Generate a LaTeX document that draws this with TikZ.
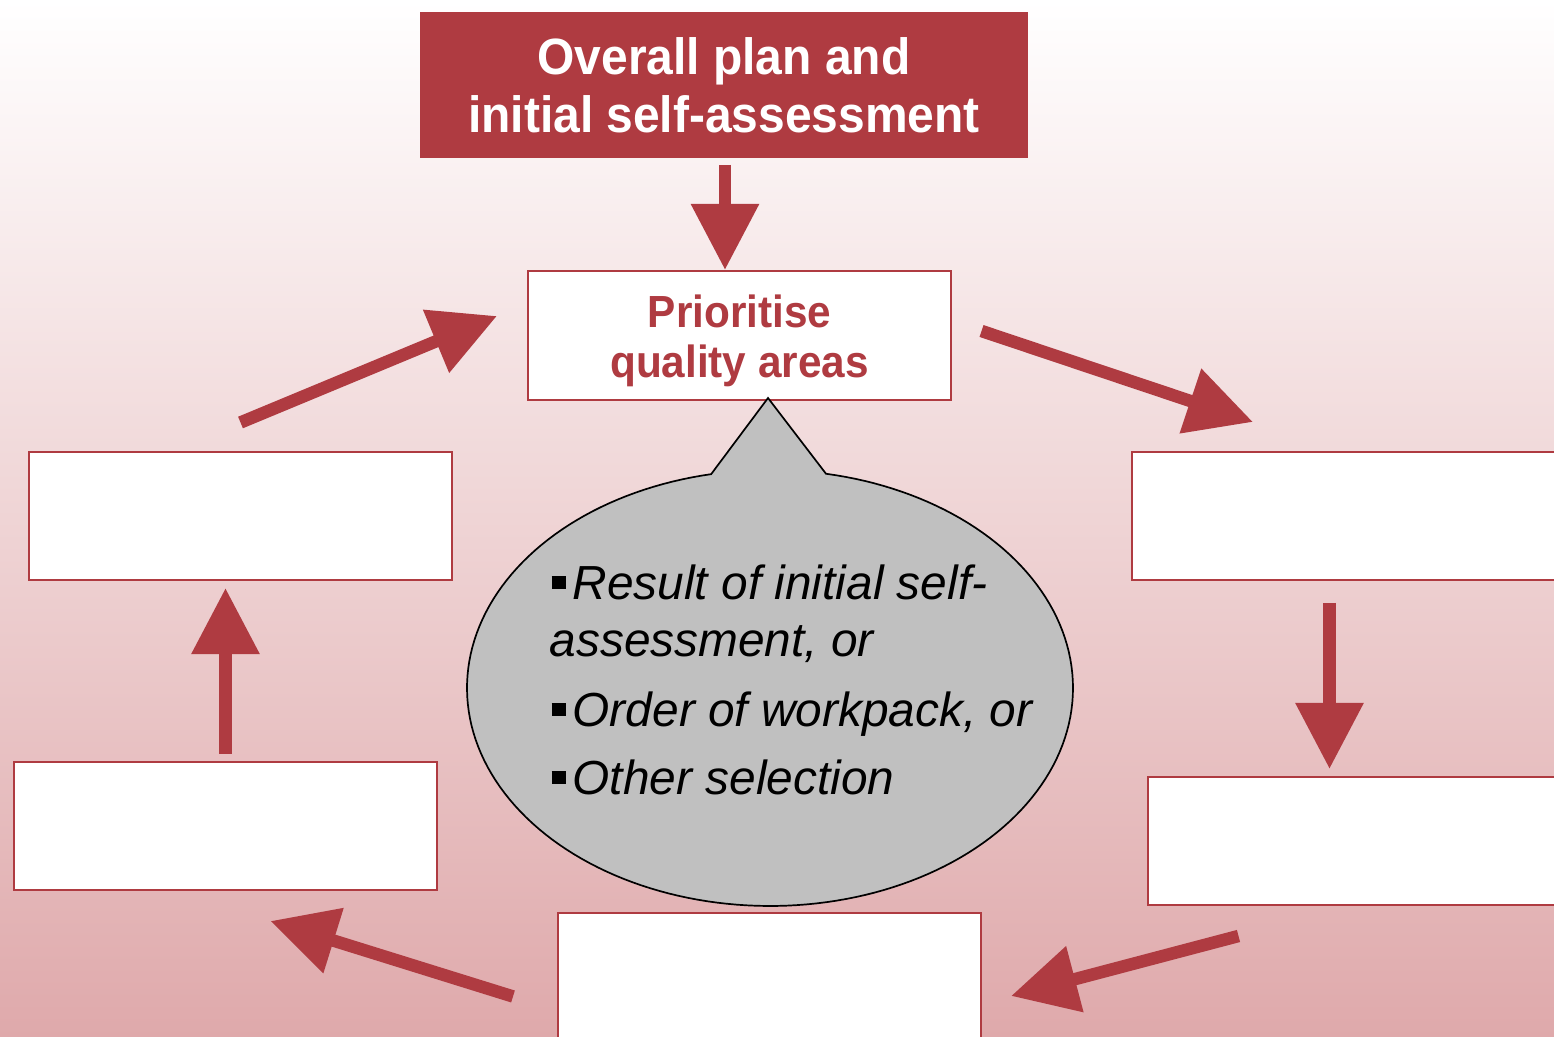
\documentclass[tikz,border=0pt]{standalone}
\usepackage{fontspec}
\setmainfont{Liberation Sans}
\newfontfamily\narrowfont[FakeStretch=0.94]{Liberation Sans}
\usetikzlibrary{arrows.meta}
\definecolor{myred}{RGB}{175,59,65}
\definecolor{bgbot}{RGB}{223,169,171}
\definecolor{bubblegray}{RGB}{192,192,192}
\newdimen\PX \PX=0.01cm
\begin{document}
\begin{tikzpicture}[x=0.01cm,y=-0.01cm,
  box/.style={draw=myred, line width=0.02cm, fill=white, minimum width=4.23cm, minimum height=1.28cm, inner sep=0pt},
  flow/.style={myred, line width=0.125cm, -{Triangle[length=0.66cm,width=0.65cm]}},
  bul/.style={anchor=base west, inner sep=0pt, font=\fontsize{13.6pt}{16.2pt}\selectfont\itshape}]
\useasboundingbox (0,0) rectangle (1554,1037);
\clip (0,0) rectangle (1554,1037);
\shade[top color=white, bottom color=bgbot] (0,0) rectangle (1554,1037);

% title box
\node[fill=myred, draw=myred, line width=0.02cm, minimum width=6.06cm, minimum height=1.43cm,
      inner sep=0pt, text=white, align=center,
      font=\narrowfont\bfseries\fontsize{14.51pt}{16.5pt}\selectfont] (plan) at (724,85)
      {Overall plan and\\initial self-assessment};

% prioritise box
\node[box] (prio) at (739.5,335.5) {};
\node[inner sep=0pt, text=myred, align=center,
      font=\narrowfont\bfseries\fontsize{12.8pt}{14.23pt}\selectfont] (priotext) at (739.5,341)
      {Prioritise\\quality areas};

% empty boxes
\node[box] (lu) at (240.5,516) {};
\node[box] (ru) at (1343.5,516) {};
\node[box] (ll) at (225.5,826) {};
\node[box] (rl) at (1359.5,841) {};
\node[box] (bc) at (769.5,977) {};

% bubble
\filldraw[fill=bubblegray, draw=black, line width=0.017cm, line join=miter]
  (768,398) -- plot[domain=-79.35:258.8, samples=180] ({770+303*cos(\x)},{688+218*sin(\x)}) -- cycle;

\node[bul] (b1) at (551,600) {\rule[11\PX]{14\PX}{13\PX}\hspace{7\PX}Result of initial self-};
\node[bul] (b2) at (549,657) {assessment, or};
\node[bul] (b3) at (551,727) {\rule[11\PX]{14\PX}{13\PX}\hspace{7\PX}Order of workpack, or};
\node[bul] (b4) at (551,795) {\rule[11\PX]{14\PX}{13\PX}\hspace{7\PX}Other selection};

% arrow end points
\coordinate (a1s) at (725,165);    \coordinate (a1e) at (725,270);
\coordinate (a2s) at (981.5,331);  \coordinate (a2e) at (1253,422);
\coordinate (a3s) at (1329.5,603); \coordinate (a3e) at (1329.5,769);
\coordinate (a4s) at (1238.5,936); \coordinate (a4e) at (1011,996);
\coordinate (a5s) at (513,996.5);  \coordinate (a5e) at (270.5,921);
\coordinate (a6s) at (225.5,754);  \coordinate (a6e) at (225.5,588);
\coordinate (a7s) at (240.5,422.5);\coordinate (a7e) at (497,316);

\draw[flow] (a1s) -- (a1e);
\draw[flow] (a2s) -- (a2e);
\draw[flow] (a3s) -- (a3e);
\draw[flow] (a4s) -- (a4e);
\draw[flow] (a5s) -- (a5e);
\draw[flow] (a6s) -- (a6e);
\draw[flow] (a7s) -- (a7e);
\end{tikzpicture}
\end{document}
